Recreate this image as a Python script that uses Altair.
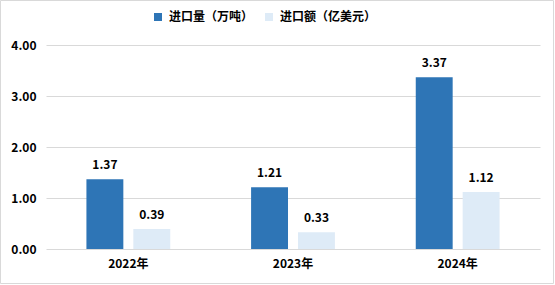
import altair as alt
import pandas as pd

years = ["2022年", "2023年", "2024年"]
series = ["进口量（万吨）", "进口额（亿美元）"]
volume = [1.37, 1.21, 3.37]
amount = [0.39, 0.33, 1.12]
colors = ["#2E75B6", "#DEEBF7"]

rows = []
for i, y in enumerate(years):
    rows.append({"year": y, "series": series[0], "val": volume[i]})
    rows.append({"year": y, "series": series[1], "val": amount[i]})
df = pd.DataFrame(rows)

FONT = "Noto Sans CJK SC"

x_enc = alt.X("year:N", sort=years,
              scale=alt.Scale(paddingInner=0.491, paddingOuter=0.2455),
              axis=alt.Axis(title=None, labelAngle=0, ticks=False, domain=False,
                            labelPadding=9, labelFontSize=12, labelFontWeight="bold",
                            labelColor="#000000", labelFont=FONT, grid=False))
xo_enc = alt.XOffset("series:N", sort=series,
                     scale=alt.Scale(paddingInner=0.213, paddingOuter=0))
y_enc = alt.Y("val:Q", scale=alt.Scale(domain=[0, 4]),
              axis=alt.Axis(title=None, values=[0, 1, 2, 3, 4], format=".2f",
                            ticks=False, domain=False, grid=True, gridColor="#d9d9d9",
                            gridWidth=1, labelPadding=10, labelFontSize=12,
                            labelFontWeight="bold", labelColor="#000000", labelFont=FONT))

base = alt.Chart(df)

bars = base.mark_bar().encode(
    x=x_enc,
    xOffset=xo_enc,
    y=y_enc,
    color=alt.Color("series:N", sort=series,
                    scale=alt.Scale(domain=series, range=colors),
                    legend=alt.Legend(title=None, orient="none", legendX=106, legendY=-34,
                                      direction="horizontal", symbolType="square",
                                      symbolSize=64, symbolStrokeWidth=0,
                                      labelFontSize=12, labelFontWeight="bold",
                                      labelFont=FONT, labelColor="#000000",
                                      columnPadding=9, labelOffset=5)),
)

labels = base.mark_text(baseline="bottom", dy=-7, fontSize=12, fontWeight="bold",
                        font=FONT, color="#000000").encode(
    x=alt.X("year:N", sort=years),
    xOffset=alt.XOffset("series:N", sort=series),
    y=alt.Y("val:Q"),
    text=alt.Text("val:Q", format=".2f"),
)

frame = alt.Chart(pd.DataFrame({"k": [0]})).mark_rect(
    fill=None, stroke="#d9d9d9", strokeWidth=1).encode(
    x=alt.value(-45.5), x2=alt.value(507.5), y=alt.value(-44.5), y2=alt.value(238.5))

chart = alt.layer(bars, labels, frame).properties(
    width=494, height=204,
    autosize=alt.AutoSizeParams(type="none"),
    padding={"left": 46, "top": 45, "right": 15, "bottom": 36},
    background="#ffffff",
).configure_view(stroke=None)

chart.save("out.html", embed_options={"renderer": "svg", "actions": False})
